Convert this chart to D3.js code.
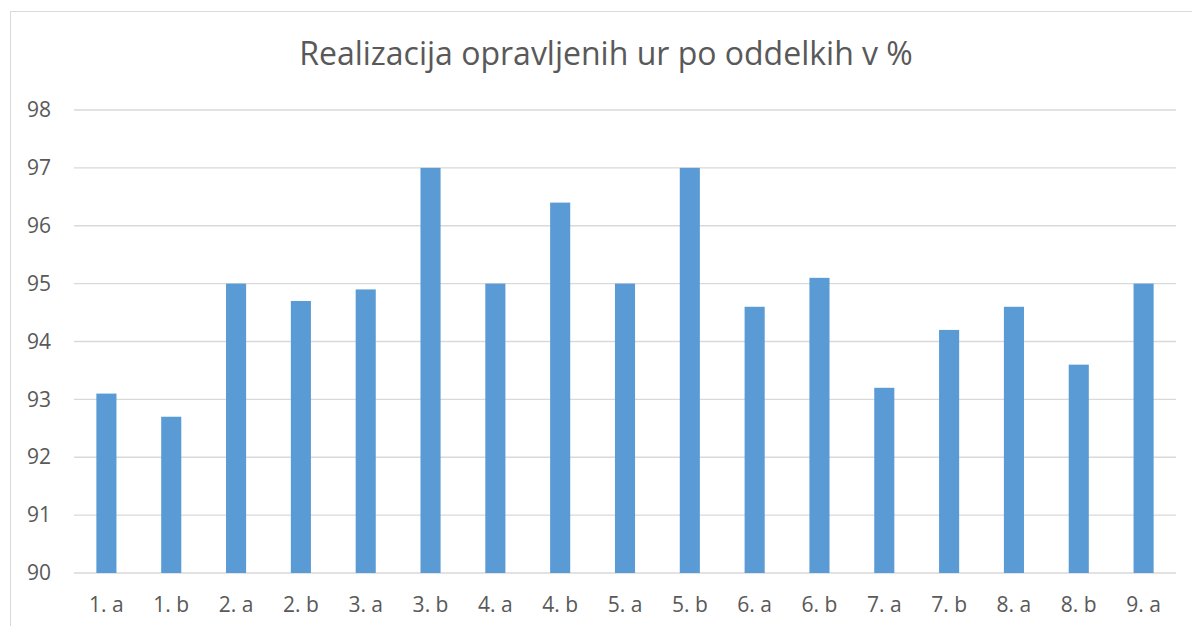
<!DOCTYPE html>
<html>
<head>
<meta charset="utf-8">
<script src="https://cdn.jsdelivr.net/npm/d3@7"></script>
<style>
  body { margin: 0; background: #fff; }
  svg { display: block; }
</style>
</head>
<body>
<svg id="chart"></svg>
<script>
// data
const categories = ["1. a", "1. b", "2. a", "2. b", "3. a", "3. b", "4. a", "4. b", "5. a",
    "5. b", "6. a", "6. b", "7. a", "7. b", "8. a", "8. b", "9. a"];
const values = [93.1, 92.7, 95, 94.7, 94.9, 97, 95, 96.4, 95, 97, 94.6, 95.1, 93.2, 94.2, 94.6, 93.6, 95];
const yTicks = [90, 91, 92, 93, 94, 95, 96, 97, 98];
const title = "Realizacija opravljenih ur po oddelkih v %";

let width = 1192, height = 626;
let margin = { top: 110, right: 16, bottom: 53, left: 74 };

let svg = d3.select("#chart")
    .attr("width", width)
    .attr("height", height);

// chart frame (only left + top edges are visible in the crop)
svg.append("rect")
    .attr("x", 10.5).attr("y", 11.5)
    .attr("width", width).attr("height", height)
    .attr("fill", "#fff")
    .attr("stroke", "#d9d9d9")
    .attr("stroke-width", 1);

let x = d3.scaleBand()
    .domain(categories)
    .range([margin.left, width - margin.right])
    .paddingInner(0.69)
    .paddingOuter(0.345);

let y = d3.scaleLinear()
    .domain([90, 98])
    .range([height - margin.bottom, margin.top]);

// gridlines
svg.append("g")
    .selectAll("line")
    .data(yTicks)
    .enter().append("line")
    .attr("x1", margin.left)
    .attr("x2", width - margin.right)
    .attr("y1", function (d) { return y(d); })
    .attr("y2", function (d) { return y(d); })
    .attr("stroke", "#d9d9d9")
    .attr("stroke-width", 1.3);

// bars
svg.append("g")
    .selectAll("rect")
    .data(values)
    .enter().append("rect")
    .attr("x", function (d, i) { return x(categories[i]); })
    .attr("y", function (d) { return y(d); })
    .attr("width", x.bandwidth())
    .attr("height", function (d) { return y(90) - y(d); })
    .attr("fill", "#5b9bd5");

// y axis labels
let yAxis = d3.axisLeft(y).tickValues(yTicks).tickSize(0).tickPadding(23);
svg.append("g")
    .attr("transform", "translate(" + margin.left + ",0)")
    .call(yAxis)
    .call(function (g) { g.select(".domain").remove(); })
    .selectAll("text")
    .attr("fill", "#595959")
    .style("font-family", "'Open Sans', sans-serif")
    .style("font-size", "21px");

// x axis labels
let xAxis = d3.axisBottom(x).tickSize(0).tickPadding(24);
svg.append("g")
    .attr("transform", "translate(0," + (height - margin.bottom) + ")")
    .call(xAxis)
    .call(function (g) { g.select(".domain").remove(); })
    .selectAll("text")
    .attr("fill", "#595959")
    .style("font-family", "'Open Sans', sans-serif")
    .style("font-size", "21px");

// title
svg.append("text")
    .attr("x", 606)
    .attr("y", 65)
    .attr("text-anchor", "middle")
    .attr("fill", "#595959")
    .style("font-family", "'Open Sans', sans-serif")
    .style("font-size", "32px")
    .text(title);
</script>
</body>
</html>
